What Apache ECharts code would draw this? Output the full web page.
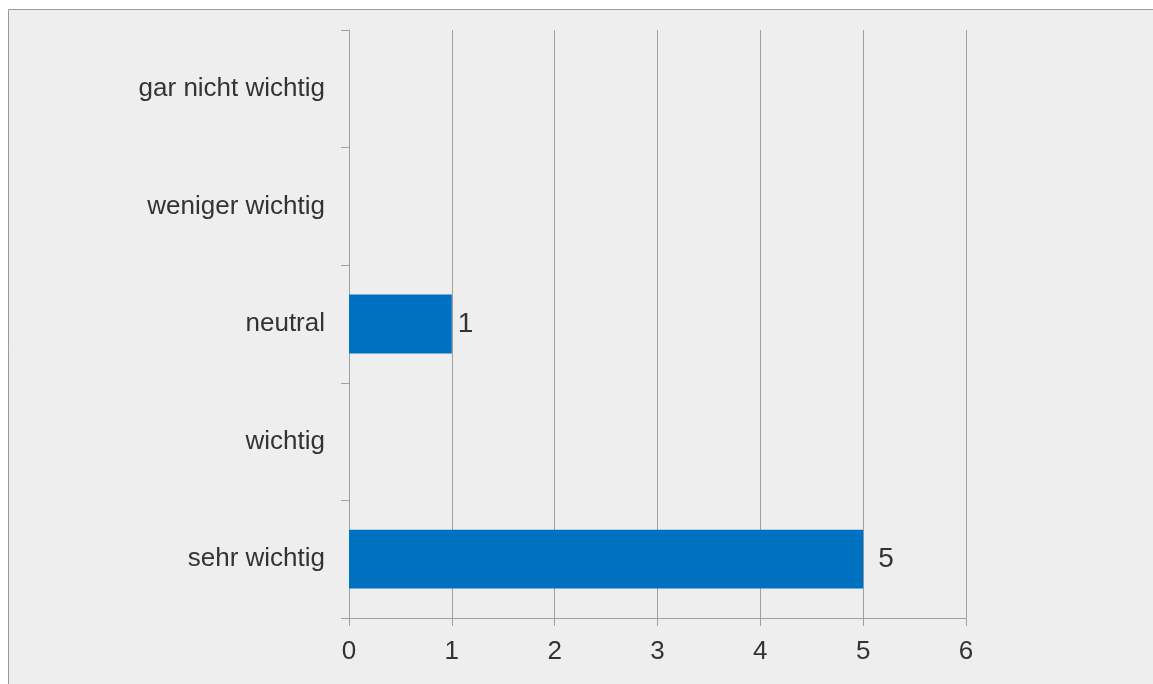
<!DOCTYPE html>
<html><head><meta charset="utf-8">
<script src="https://cdn.jsdelivr.net/npm/echarts@6/dist/echarts.min.js"></script>
<style>html,body{margin:0;padding:0;background:#fff}#c{width:1153px;height:684px}</style>
</head><body><div id="c"></div>
<script>
var categories = ['sehr wichtig', 'wichtig', 'neutral', 'weniger wichtig', 'gar nicht wichtig'];
var values = [5, 0, 1, 0, 0];
var xTicks = [0, 1, 2, 3, 4, 5, 6];

var chart = echarts.init(document.getElementById('c'));
var font = '"Liberation Sans", Arial, sans-serif';
chart.setOption({
  backgroundColor: '#ffffff',
  animation: false,
  graphic: [{
    type: 'rect', z: -10, silent: true,
    shape: { x: 8.5, y: 9.5, width: 1200, height: 700 },
    style: { fill: '#eeeeee', stroke: '#9a9a9a', lineWidth: 1 }
  }],
  grid: { left: 349, top: 30, width: 617, height: 588, containLabel: false },
  xAxis: {
    type: 'value', min: xTicks[0], max: xTicks[xTicks.length - 1], interval: 1,
    axisLine: { show: true, lineStyle: { color: '#a0a0a0', width: 1 } },
    axisTick: { show: true, length: 8, lineStyle: { color: '#a0a0a0' } },
    splitLine: { show: true, lineStyle: { color: '#a0a0a0', width: 1 } },
    axisLabel: { color: '#333333', fontSize: 26, fontFamily: font, margin: 21 }
  },
  yAxis: {
    type: 'category', data: categories,
    axisLine: { show: true, lineStyle: { color: '#a0a0a0', width: 1 } },
    axisTick: { show: true, length: 8, inside: false, alignWithLabel: false, lineStyle: { color: '#a0a0a0' } },
    axisLabel: { color: '#333333', fontSize: 26, fontFamily: font, margin: 24, padding: [5, 0, 0, 0] }
  },
  series: [{
    type: 'bar',
    data: values.map(function (v) {
      return { value: v, label: { distance: v >= 5 ? 15 : 6 } };
    }),
    barWidth: '50%',
    itemStyle: { color: '#0070c0' },
    label: {
      show: true, position: 'right',
      color: '#333333', fontSize: 28, fontFamily: font, padding: [4, 0, 0, 0],
      formatter: function (p) { return p.value ? String(p.value) : ''; }
    }
  }]
});
</script></body></html>
